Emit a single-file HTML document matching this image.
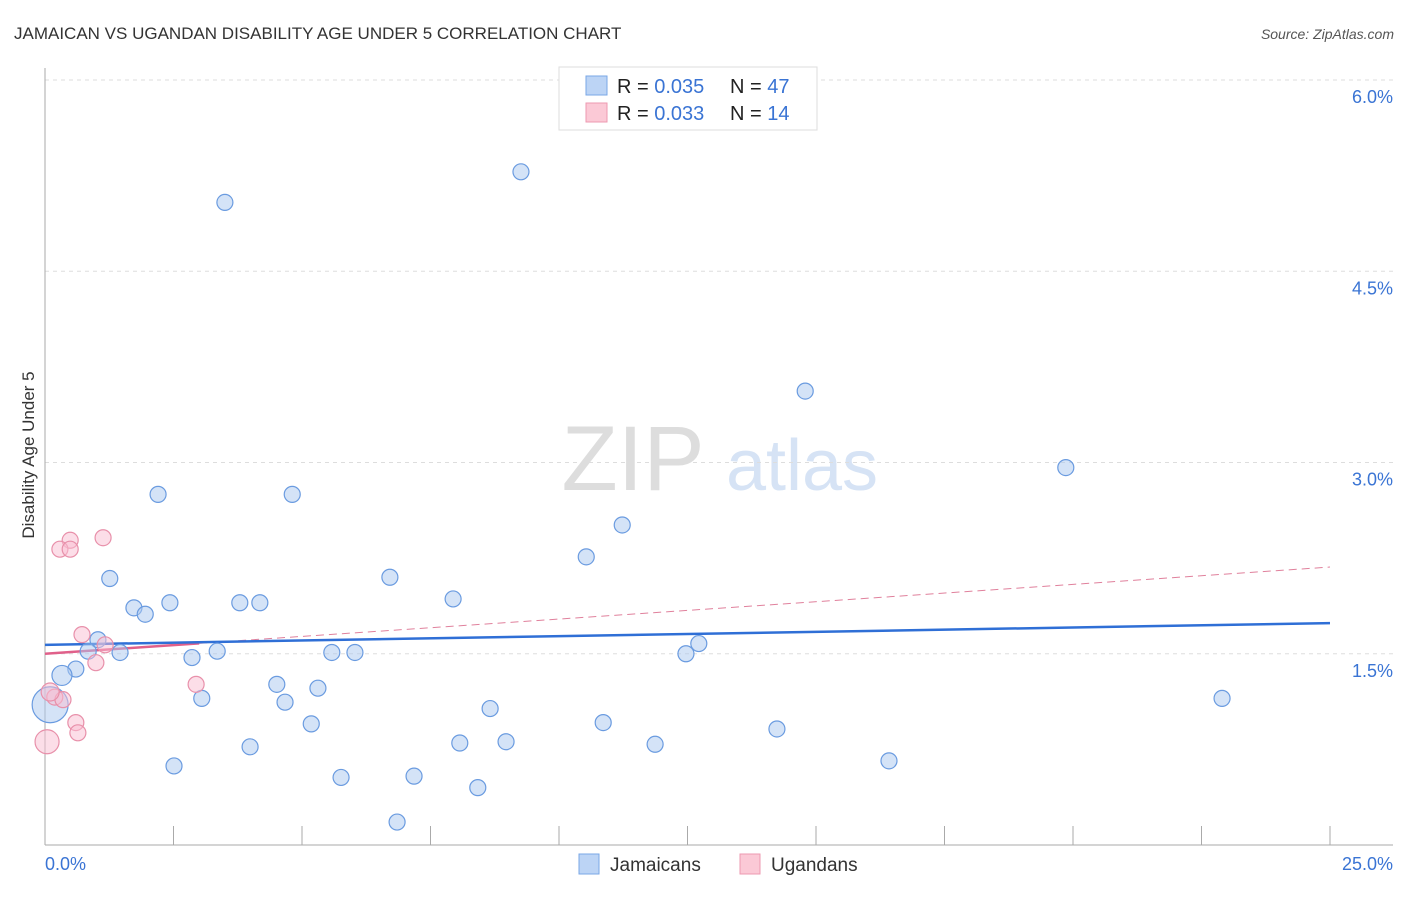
<!DOCTYPE html>
<html><head><meta charset="utf-8"><style>
body{margin:0;background:#fff;font-family:"Liberation Sans",sans-serif}
svg text{font-family:"Liberation Sans",sans-serif}
</style></head><body>
<svg id="chart" width="1406" height="892">
<text x="14" y="39" font-size="17" fill="#333">JAMAICAN VS UGANDAN DISABILITY AGE UNDER 5 CORRELATION CHART</text>
<text x="1394" y="39" font-size="14" fill="#555" font-style="italic" text-anchor="end">Source: ZipAtlas.com</text>
<g>
<text x="633" y="490" font-size="92" fill="#ddd" font-family="Liberation Serif" text-anchor="middle">ZIP</text>
<text x="802" y="490" font-size="72" fill="#d6e3f5" text-anchor="middle">atlas</text>
</g>
<g id="grid"></g>
<g id="axes"></g>
<g id="trends"></g>
<g id="points"></g>
<text transform="translate(34,455) rotate(-90)" font-size="17" fill="#333" text-anchor="middle">Disability Age Under 5</text>
<g>
<rect x="559" y="67" width="258" height="63" fill="#fff" stroke="#ddd"/>
<rect x="586" y="76" width="21" height="19" fill="#bcd4f5" stroke="#7aa7e6"/>
<rect x="586" y="103" width="21" height="19" fill="#fbc9d6" stroke="#ee99b0"/>
<text x="617" y="93" font-size="20" fill="#222">R = <tspan fill="#3a74d4">0.035</tspan><tspan x="730">N = </tspan><tspan fill="#3a74d4">47</tspan></text>
<text x="617" y="120" font-size="20" fill="#222">R = <tspan fill="#3a74d4">0.033</tspan><tspan x="730">N = </tspan><tspan fill="#3a74d4"> 14</tspan></text>
</g>
<g>
<rect x="579" y="854" width="20" height="20" fill="#bcd4f5" stroke="#7aa7e6"/>
<text x="610" y="871" font-size="19" fill="#333">Jamaicans</text>
<rect x="740" y="854" width="20" height="20" fill="#fbc9d6" stroke="#ee99b0"/>
<text x="771" y="871" font-size="19" fill="#333">Ugandans</text>
</g>
</svg>
<script>
const jamX=[9.26,3.50,14.79,19.86,2.20,4.81,11.23,10.53,1.26,6.71,1.73,1.95,2.43,3.79,4.18,7.94,1.03,0.84,1.46,3.35,5.58,6.03,2.86,12.72,12.47,0.60,0.33,4.51,5.31,3.05,4.67,22.90,8.66,0.10,5.18,10.86,14.24,8.07,8.97,3.99,11.87,2.51,16.42,5.76,7.18,8.42,6.85];
const jamY=[5.28,5.04,3.56,2.96,2.75,2.75,2.51,2.26,2.09,2.10,1.86,1.81,1.90,1.90,1.90,1.93,1.61,1.52,1.51,1.52,1.51,1.51,1.47,1.58,1.50,1.38,1.33,1.26,1.23,1.15,1.12,1.15,1.07,1.10,0.95,0.96,0.91,0.80,0.81,0.77,0.79,0.62,0.66,0.53,0.54,0.45,0.18];
const jamR=[8,8,8,8,8,8,8,8,8,8,8,8,8,8,8,8,8,8,8,8,8,8,8,8,8,8,10,8,8,8,8,8,8,18,8,8,8,8,8,8,8,8,8,8,8,8,8];
const ugX=[0.04,0.19,0.35,0.49,0.29,0.49,1.13,0.72,1.17,0.99,2.94,0.60,0.64,0.10];
const ugY=[0.81,1.16,1.14,2.39,2.32,2.32,2.41,1.65,1.57,1.43,1.26,0.96,0.88,1.20];
const ugR=[12,8,8,8,8,8,8,8,8,8,8,8,8,9];
const yTicks=[1.5,3.0,4.5,6.0];
const yTickLabels=["1.5%","3.0%","4.5%","6.0%"];
const xTicks=[0,2.5,5,7.5,10,12.5,15,17.5,20,22.5,25];
const jamTrend=[1.57,1.74];
const ugTrend=[1.50,2.18];
const ugSolidEnd=3.0;
const NS="http://www.w3.org/2000/svg";
const X=v=>45+v*51.4, Y=v=>845-v*127.5;
function mk(p,t,a){const e=document.createElementNS(NS,t);for(const k in a)e.setAttribute(k,a[k]);document.getElementById(p).appendChild(e);return e;}
yTicks.forEach((t,i)=>{
 const l=mk('grid','line',{x1:45,x2:1393,y1:Y(t),y2:Y(t),stroke:'#ddd','stroke-dasharray':'4,4'});
 
 
 const tx=mk('grid','text',{x:1393,y:Y(t)+23,'font-size':18,fill:'#3a74d4','text-anchor':'end'});
 tx.textContent=yTickLabels[i];
 
 
});
const ax=mk('axes','line',{x1:45,x2:45,y1:68,y2:845,stroke:'#aaa'});


const bx=mk('axes','line',{x1:45,x2:1393,y1:845,y2:845,stroke:'#aaa'});


xTicks.forEach(t=>{const l=mk('axes','line',{x1:X(t),x2:X(t),y1:826,y2:845,stroke:'#aaa'});
 
 });
const x0=mk('axes','text',{x:45,y:870,'font-size':18,fill:'#3a74d4'});x0.textContent=xTicks[0].toFixed(1)+'%';


const x1=mk('axes','text',{x:1393,y:870,'font-size':18,fill:'#3a74d4','text-anchor':'end'});x1.textContent=xTicks[xTicks.length-1].toFixed(1)+'%';


const ugAt=v=>ugTrend[0]+(ugTrend[1]-ugTrend[0])*v/25;
const ud=mk('trends','line',{x1:X(ugSolidEnd),y1:Y(ugAt(ugSolidEnd)),x2:X(25),y2:Y(ugTrend[1]),stroke:'#e0809c','stroke-width':1,'stroke-dasharray':'8,5'});


const us=mk('trends','line',{x1:X(0),y1:Y(ugTrend[0]),x2:X(ugSolidEnd),y2:Y(ugAt(ugSolidEnd)),stroke:'#e0608a','stroke-width':2.5});


const jt=mk('trends','line',{x1:X(0),y1:Y(jamTrend[0]),x2:X(25),y2:Y(jamTrend[1]),stroke:'#2f6fd6','stroke-width':2.5});


jamX.forEach((v,i)=>{const c=mk('points','circle',{cx:X(v),cy:Y(jamY[i]),r:jamR[i],fill:'rgba(170,200,240,0.5)',stroke:'#6a9be0','stroke-width':1.2});
 
 });
ugX.forEach((v,i)=>{const c=mk('points','circle',{cx:X(v),cy:Y(ugY[i]),r:ugR[i],fill:'rgba(250,190,210,0.5)',stroke:'#e890aa','stroke-width':1.2});
 
 });
</script>
</body></html>
